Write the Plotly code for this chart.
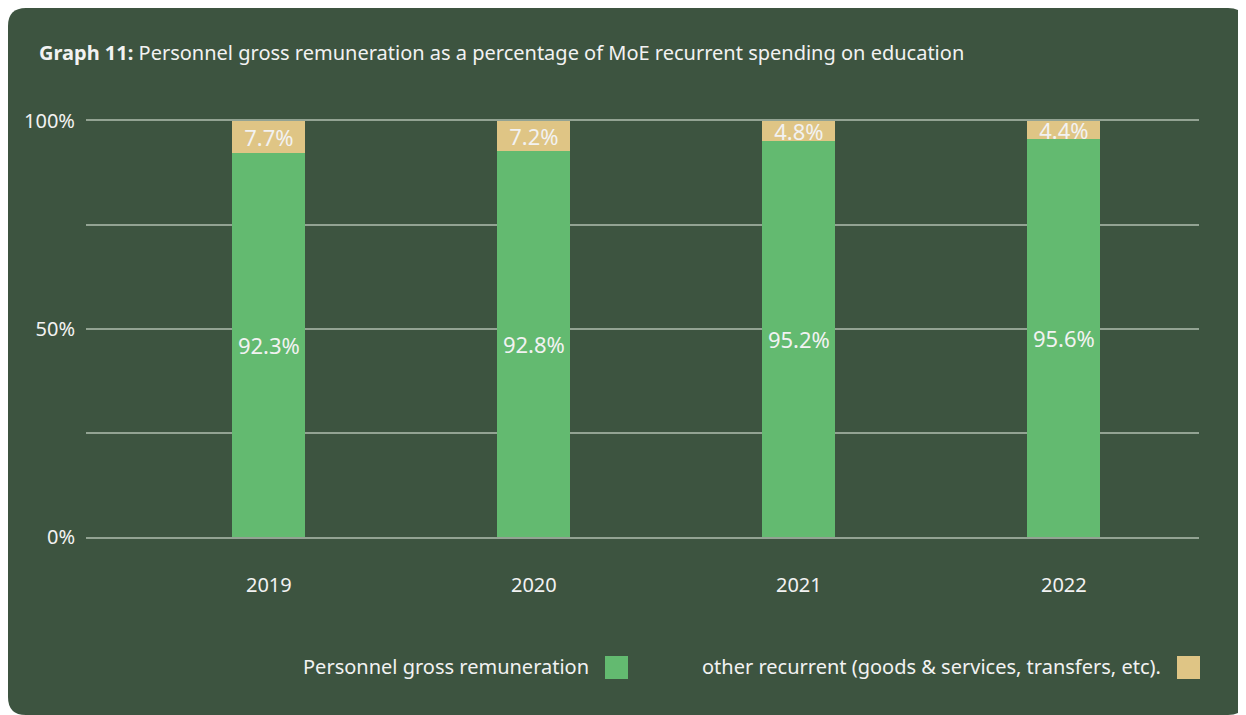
import plotly.graph_objects as go

# データ
years = ['2019', '2020', '2021', '2022']
personnel = [92.3, 92.8, 95.2, 95.6]
other = [7.7, 7.2, 4.8, 4.4]
series_names = ['Personnel gross remuneration',
                'other recurrent (goods & services, transfers, etc).']
y_tick_vals = [0, 25, 50, 75, 100]
y_tick_text = ['0%', '', '50%', '', '100%']

# 装飾
bg_color = '#3D5440'
green = '#63BA70'
tan = '#DFC585'
grid_color = '#93A393'
text_color = '#F2F2F2'
font_family = 'Noto Sans, Open Sans, sans-serif'

# ページ余白(body margin 8px)を考慮したサイズ
OFF = 8
W, H = 1238, 707
L, R, T, B = 78, 47, 113, 178
pw, ph = W - L - R, H - T - B


# ページのピクセル座標 -> paper座標
def px(x):
    return (x - OFF - L) / pw


def py(y):
    return (H - B - (y - OFF)) / ph


fig = go.Figure()
fig.add_trace(go.Bar(
    x=years, y=personnel, name=series_names[0],
    marker=dict(color=green, line=dict(width=0)),
    text=[f'{v}%' for v in personnel],
    textposition='inside', insidetextanchor='middle',
    textfont=dict(color=text_color, size=22),
    cliponaxis=False,
))
fig.add_trace(go.Bar(
    x=years, y=other, name=series_names[1],
    marker=dict(color=tan, line=dict(width=0)),
    text=[f'{v}%' for v in other],
    textposition='inside', insidetextanchor='middle',
    textfont=dict(color=text_color, size=22),
    cliponaxis=False,
))

# 背景の角丸四角形
x0, x1, y0, y1, r = 8, 1246, 8, 715, 18
path = (f'M {px(x0 + r)} {py(y0)} L {px(x1 - r)} {py(y0)} '
        f'Q {px(x1)} {py(y0)} {px(x1)} {py(y0 + r)} '
        f'L {px(x1)} {py(y1 - r)} Q {px(x1)} {py(y1)} {px(x1 - r)} {py(y1)} '
        f'L {px(x0 + r)} {py(y1)} Q {px(x0)} {py(y1)} {px(x0)} {py(y1 - r)} '
        f'L {px(x0)} {py(y0 + r)} Q {px(x0)} {py(y0)} {px(x0 + r)} {py(y0)} Z')
shapes = [dict(type='path', path=path, xref='paper', yref='paper',
               fillcolor=bg_color, line=dict(width=0), layer='below')]

# 凡例（テキストの右に四角）
legend_items = [(591, 605, green), (1163, 1177, tan)]
annotations = []
for name, (tx, sx, col) in zip(series_names, legend_items):
    annotations.append(dict(
        text=name, x=px(tx), y=py(666), xref='paper', yref='paper',
        xanchor='right', yanchor='middle', showarrow=False,
        font=dict(size=20, color=text_color, family=font_family)))
    shapes.append(dict(type='rect', xref='paper', yref='paper',
                       x0=px(sx), x1=px(sx + 23), y0=py(679), y1=py(656),
                       fillcolor=col, line=dict(width=0)))

# タイトル
annotations.append(dict(
    text='<b>Graph 11:</b> Personnel gross remuneration as a percentage of MoE recurrent spending on education',
    x=px(37), y=py(53), xref='paper', yref='paper',
    xanchor='left', yanchor='middle', showarrow=False,
    font=dict(size=20, color=text_color, family=font_family)))

fig.update_layout(
    width=W, height=H,
    barmode='stack', bargap=0.725,
    paper_bgcolor='white', plot_bgcolor='rgba(0,0,0,0)',
    font=dict(family=font_family, color=text_color, size=20),
    margin=dict(l=L, r=R, t=T, b=B, autoexpand=False),
    showlegend=False,
    shapes=shapes, annotations=annotations,
    uniformtext=dict(mode='show', minsize=22),
)
# 0%と100%の線はx軸の線（上下）で描く
fig.update_xaxes(range=[-0.69, 3.51], showgrid=False,
                 showline=True, mirror=True, linecolor=grid_color, linewidth=1.5,
                 ticks='', ticklabelstandoff=29, tickfont=dict(size=20))
fig.update_yaxes(range=[0, 100], tickvals=y_tick_vals, ticktext=y_tick_text,
                 showgrid=True, gridcolor=grid_color, gridwidth=1.5,
                 showline=False, zeroline=False, ticks='', ticklabelstandoff=10,
                 tickfont=dict(size=20))

fig.write_html('out.html')
